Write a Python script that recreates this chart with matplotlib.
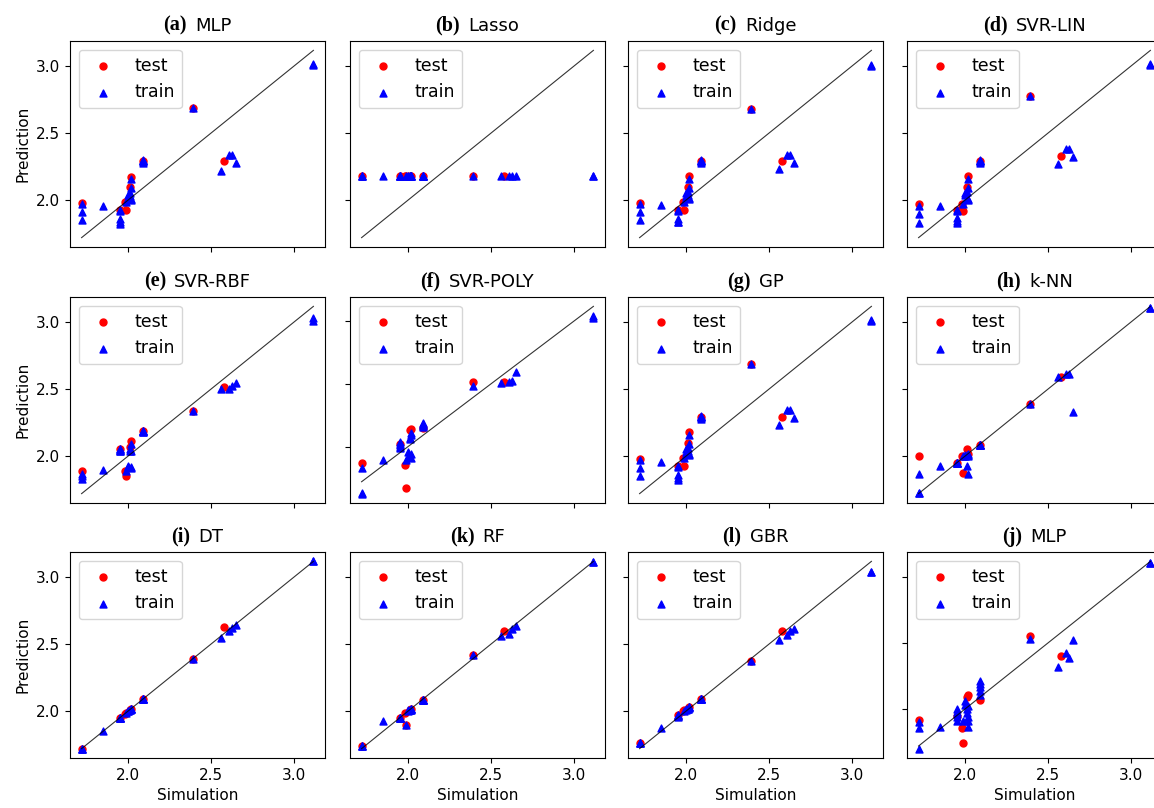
import matplotlib.pyplot as plt
from matplotlib.offsetbox import AnchoredOffsetbox, HPacker, TextArea

# simulated values (x axis), shared by all models
sim_train = [1.72, 1.72, 1.72, 1.85, 1.95, 1.95, 1.95, 1.95, 1.95, 1.99,
             2.00, 2.00, 2.01, 2.01, 2.02, 2.02, 2.02, 2.02,
             2.09, 2.09, 2.09, 2.09, 2.09,
             2.39, 2.56, 2.61, 2.63, 2.65, 3.12, 3.12]
sim_test = [1.72, 1.95, 1.98, 1.99, 2.01, 2.02, 2.09, 2.39, 2.58]

# predictions
mlp_train = [1.97, 1.91, 1.85, 1.96, 1.93, 1.92, 1.86, 1.84, 1.82, 1.99,
             2.04, 2.02, 2.05, 2.03, 2.16, 2.09, 2.00, 2.01,
             2.29, 2.29, 2.28, 2.29, 2.30,
             2.69, 2.22, 2.34, 2.34, 2.28, 3.02, 3.01]
mlp_test = [1.98, 1.93, 1.99, 1.93, 2.10, 2.17, 2.29, 2.69, 2.29]

lasso_train = [2.18] * 30
lasso_test = [2.18] * 9

ridge_train = [1.97, 1.915, 1.85, 1.965, 1.93, 1.92, 1.86, 1.84, 1.835, 1.99,
               2.05, 2.03, 2.06, 2.04, 2.16, 2.09, 2.01, 2.02,
               2.29, 2.29, 2.28, 2.29, 2.30,
               2.68, 2.23, 2.34, 2.34, 2.28, 3.01, 3.00]
ridge_test = [1.98, 1.93, 1.99, 1.93, 2.10, 2.18, 2.29, 2.68, 2.29]

svrlin_train = [1.96, 1.90, 1.83, 1.955, 1.93, 1.92, 1.865, 1.845, 1.83, 1.975,
                2.05, 2.04, 2.06, 2.02, 2.16, 2.09, 2.00, 2.01,
                2.29, 2.29, 2.28, 2.29, 2.30,
                2.78, 2.27, 2.38, 2.38, 2.32, 3.02, 3.01]
svrlin_test = [1.97, 1.93, 1.975, 1.92, 2.10, 2.18, 2.29, 2.78, 2.33]

svrrbf_train = [1.87, 1.85, 1.83, 1.90, 2.05, 2.04, 2.035, 2.05, 2.045, 1.89,
                1.92, 1.93, 2.05, 2.04, 2.09, 2.035, 1.91, 1.92,
                2.185, 2.18, 2.19, 2.185, 2.18,
                2.34, 2.50, 2.50, 2.525, 2.55, 3.03, 3.01]
svrrbf_test = [1.886, 2.054, 1.89, 1.85, 2.07, 2.11, 2.185, 2.34, 2.52]

svrpoly_train = [1.83, 1.63, 1.625, 1.896, 2.04, 2.02, 2.00, 1.99, 2.01, 1.89,
                 1.96, 1.92, 2.07, 2.06, 2.11, 2.09, 1.91, 1.94,
                 2.185, 2.165, 2.17, 2.18, 2.16,
                 2.484, 2.505, 2.516, 2.524, 2.596, 3.045, 3.024]
svrpoly_test = [1.866, 2.02, 1.856, 1.67, 2.136, 2.14, 2.15, 2.516, 2.516]

gp_train = [1.97, 1.91, 1.85, 1.96, 1.925, 1.92, 1.86, 1.84, 1.82, 1.99,
            2.055, 2.03, 2.06, 2.04, 2.16, 2.09, 2.01, 2.02,
            2.29, 2.29, 2.28, 2.29, 2.30,
            2.69, 2.23, 2.345, 2.345, 2.285, 3.02, 3.01]
gp_test = [1.98, 1.93, 1.99, 1.93, 2.10, 2.18, 2.29, 2.69, 2.29]

knn_train = [1.87, 1.725, 1.725, 1.93, 1.95, 1.95, 1.95, 1.95, 1.95, 2.00,
             2.01, 2.00, 1.93, 2.01, 2.00, 2.02, 1.87, 2.01,
             2.085, 2.085, 2.085, 2.085, 2.085,
             2.39, 2.59, 2.615, 2.615, 2.33, 3.11, 3.11]
knn_test = [2.00, 1.95, 2.00, 1.873, 2.05, 2.02, 2.085, 2.39, 2.59]

dt_train = [1.72, 1.72, 1.72, 1.85, 1.95, 1.95, 1.95, 1.95, 1.95, 1.99,
            2.00, 2.00, 2.01, 2.01, 2.02, 2.02, 2.02, 2.02,
            2.09, 2.09, 2.09, 2.09, 2.09,
            2.39, 2.55, 2.60, 2.62, 2.645, 3.12, 3.12]
dt_test = [1.72, 1.95, 1.98, 1.99, 2.01, 2.02, 2.09, 2.39, 2.63]

rf_train = [1.74, 1.74, 1.74, 1.926, 1.95, 1.95, 1.95, 1.95, 1.95, 1.894,
            2.00, 2.01, 2.01, 2.01, 2.02, 2.02, 2.01, 2.02,
            2.086, 2.086, 2.086, 2.086, 2.086,
            2.42, 2.565, 2.577, 2.614, 2.634, 3.113, 3.113]
rf_test = [1.74, 1.95, 1.99, 1.894, 2.01, 2.02, 2.086, 2.42, 2.597]

gbr_train = [1.765, 1.765, 1.765, 1.877, 1.97, 1.97, 1.965, 1.965, 1.96, 2.00,
             2.01, 2.015, 2.02, 2.02, 2.03, 2.035, 2.025, 2.03,
             2.094, 2.094, 2.094, 2.094, 2.094,
             2.378, 2.53, 2.568, 2.598, 2.617, 3.044, 3.044]
gbr_test = [1.765, 1.97, 2.00, 2.007, 2.02, 2.03, 2.094, 2.378, 2.598]

mlp2_train = [1.90, 1.855, 1.70, 1.866, 2.00, 1.98, 1.96, 1.94, 1.91, 1.91,
              2.06, 2.03, 2.00, 1.97, 1.94, 1.91, 1.866, 2.02,
              2.215, 2.19, 2.165, 2.14, 2.11,
              2.53, 2.316, 2.423, 2.39, 2.524, 3.11, 3.11]
mlp2_test = [1.92, 1.95, 1.856, 1.74, 2.09, 2.11, 2.068, 2.557, 2.40]

panel_tags = ["(a)", "(b)", "(c)", "(d)", "(e)", "(f)",
              "(g)", "(h)", "(i)", "(k)", "(l)", "(j)"]
model_names = ["MLP", "Lasso", "Ridge", "SVR-LIN", "SVR-RBF", "SVR-POLY",
               "GP", "k-NN", "DT", "RF", "GBR", "MLP"]
train_preds = [mlp_train, lasso_train, ridge_train, svrlin_train, svrrbf_train,
               svrpoly_train, gp_train, knn_train, dt_train, rf_train,
               gbr_train, mlp2_train]
test_preds = [mlp_test, lasso_test, ridge_test, svrlin_test, svrrbf_test,
              svrpoly_test, gp_test, knn_test, dt_test, rf_test,
              gbr_test, mlp2_test]


def add_title(ax, tag, name):
    # bold serif tag followed by the model name in sans
    tag_box = TextArea(tag, textprops=dict(family="Liberation Serif",
                                           weight="bold", size=14.5))
    name_box = TextArea(name, textprops=dict(size=13))
    row = HPacker(children=[tag_box, name_box], align="baseline", pad=0, sep=6)
    anchored = AnchoredOffsetbox(loc="lower center", child=row, pad=0,
                                 borderpad=0, frameon=False,
                                 bbox_to_anchor=(0.5, 1.025),
                                 bbox_transform=ax.transAxes)
    ax.add_artist(anchored)


def main():
    fig = plt.figure(figsize=(11.54, 8.08), dpi=100)

    W, H = 1154, 808
    col_left = [70, 350, 628, 907]
    row_top = [41, 297, 552]
    ax_w, ax_h = 255, 206

    lo, hi = min(sim_train + sim_test), max(sim_train + sim_test)

    for i in range(12):
        r, c = divmod(i, 4)
        ax = fig.add_axes([col_left[c] / W, (H - row_top[r] - ax_h) / H,
                           ax_w / W, ax_h / H])

        ax.plot([lo, hi], [lo, hi], color="k", lw=0.8, alpha=0.8)
        ax.scatter(sim_test, test_preds[i], c="r", marker="o", s=25, label="test")
        ax.scatter(sim_train, train_preds[i], c="b", marker="^", s=25, label="train")

        add_title(ax, panel_tags[i], model_names[i])
        ax.legend(loc="upper left", fontsize=12.5)
        ax.set_xticks([2.0, 2.5, 3.0])
        ax.set_yticks([2.0, 2.5, 3.0])
        ax.tick_params(labelsize=11)

        if c == 0:
            ax.set_ylabel("Prediction", fontsize=11)
        else:
            ax.tick_params(labelleft=False)
        if r == 2:
            ax.set_xlabel("Simulation", fontsize=11)
        else:
            ax.tick_params(labelbottom=False)

    fig.savefig("out.png", dpi=100)
    plt.close(fig)


if __name__ == "__main__":
    main()
